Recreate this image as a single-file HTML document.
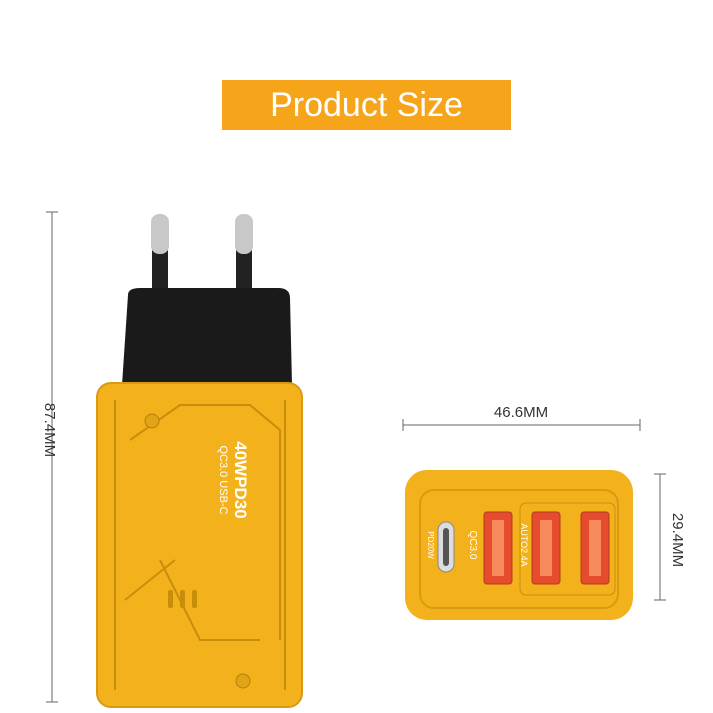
<!DOCTYPE html>
<html><head><meta charset="utf-8"><style>
body{margin:0;width:713px;height:713px;background:#fff;position:relative;overflow:hidden;font-family:"Liberation Sans",sans-serif}
.a{position:absolute}
</style></head><body>
<div class="a" style="left:222px;top:80px;width:289px;height:50px;background:#f6a51b"></div>
<div class="a" style="left:222px;top:84px;width:289px;text-align:center;color:#fff;font-size:34px;line-height:42px">Product Size</div>

<svg class="a" style="left:0;top:0" width="713" height="713">
<g stroke="#666" stroke-width="1" fill="none">
<line x1="52" y1="212" x2="52" y2="702"/><line x1="46" y1="212" x2="58" y2="212"/><line x1="46" y1="702" x2="58" y2="702"/>
<line x1="403" y1="425" x2="640" y2="425"/><line x1="403" y1="419" x2="403" y2="431"/><line x1="640" y1="419" x2="640" y2="431"/>
<line x1="660" y1="474" x2="660" y2="600"/><line x1="654" y1="474" x2="666" y2="474"/><line x1="654" y1="600" x2="666" y2="600"/>
</g>
<text x="45" y="430" font-size="15" fill="#333" transform="rotate(90 45 430)" text-anchor="middle" font-family="Liberation Sans">87.4MM</text>
<text x="521" y="417" font-size="15" fill="#333" text-anchor="middle" font-family="Liberation Sans">46.6MM</text>
<text x="673" y="540" font-size="15" fill="#333" transform="rotate(90 673 540)" text-anchor="middle" font-family="Liberation Sans">29.4MM</text>

<!-- pins -->
<rect x="152" y="225" width="16" height="75" fill="#222"/>
<rect x="151" y="214" width="18" height="40" rx="8" fill="#c8c8c8"/>
<rect x="236" y="225" width="16" height="75" fill="#222"/>
<rect x="235" y="214" width="18" height="40" rx="8" fill="#c8c8c8"/>
<!-- black head -->
<path d="M128 295 Q128 288 140 288 L278 288 Q290 288 290 298 L292 385 L122 385 Z" fill="#1a1a1a"/>
<!-- yellow body -->
<rect x="97" y="383" width="205" height="324" rx="14" fill="#f3b21c"/>
<rect x="97" y="383" width="205" height="324" rx="14" fill="none" stroke="#d99a10" stroke-width="2"/>
<g fill="none" stroke="#c98d0c" stroke-width="2">
<path d="M115 400 L115 690"/><path d="M285 400 L285 690"/>
<path d="M130 440 L180 405 L250 405 L280 430 L280 640"/>
<path d="M160 560 L200 640 L260 640"/>
<path d="M125 600 L175 560"/>
</g>
<circle cx="152" cy="421" r="7" fill="#e0a416" stroke="#b57f0a"/>
<circle cx="243" cy="681" r="7" fill="#e0a416" stroke="#b57f0a"/>
<rect x="168" y="590" width="5" height="18" rx="2" fill="#c98d0c"/>
<rect x="180" y="590" width="5" height="18" rx="2" fill="#c98d0c"/>
<rect x="192" y="590" width="5" height="18" rx="2" fill="#c98d0c"/>
<text x="235" y="480" font-size="17" font-weight="bold" fill="#fff" transform="rotate(90 235 480)" text-anchor="middle" font-family="Liberation Sans">40WPD30</text>
<text x="220" y="480" font-size="11" fill="#fff" transform="rotate(90 220 480)" text-anchor="middle" font-family="Liberation Sans">QC3.0 USB-C</text>

<!-- front view -->
<rect x="405" y="470" width="228" height="150" rx="22" fill="#f3b21c"/>
<rect x="420" y="490" width="198" height="118" rx="14" fill="none" stroke="#d99a10" stroke-width="2"/>
<rect x="520" y="503" width="95" height="92" rx="6" fill="none" stroke="#c98d0c"/>
<rect x="438" y="522" width="16" height="50" rx="8" fill="#ddd" stroke="#888"/>
<rect x="443" y="528" width="6" height="38" rx="3" fill="#555"/>
<g fill="#e74b2e" stroke="#b33a20">
<rect x="484" y="512" width="28" height="72" rx="3"/>
<rect x="532" y="512" width="28" height="72" rx="3"/>
<rect x="581" y="512" width="28" height="72" rx="3"/>
</g>
<g fill="#f78a5c"><rect x="492" y="520" width="12" height="56"/><rect x="540" y="520" width="12" height="56"/><rect x="589" y="520" width="12" height="56"/></g>
<text x="470" y="545" font-size="10" fill="#fff" transform="rotate(90 470 545)" text-anchor="middle" font-family="Liberation Sans">QC3.0</text>
<text x="428" y="545" font-size="8" fill="#fff" transform="rotate(90 428 545)" text-anchor="middle" font-family="Liberation Sans">PD20W</text>
<text x="521" y="545" font-size="9" fill="#fff" transform="rotate(90 521 545)" text-anchor="middle" font-family="Liberation Sans">AUTO2.4A</text>
</svg>
</body></html>
